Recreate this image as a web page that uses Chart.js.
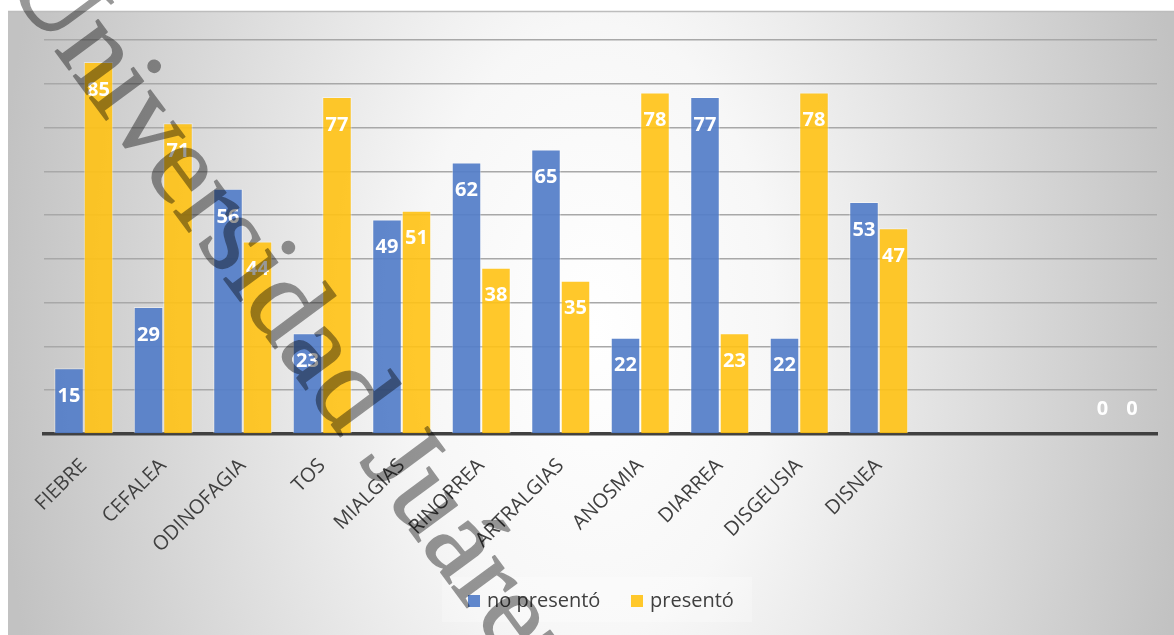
<!DOCTYPE html>
<html>
<head>
<meta charset="utf-8">
<script src="https://cdn.jsdelivr.net/npm/chart.js@4.4.1/dist/chart.umd.min.js"></script>
<style>
html,body{margin:0;padding:0;background:#fff;}
#wrap{width:1174px;height:635px;}
</style>
</head>
<body>
<div id="wrap"><canvas id="c" width="1174" height="635"></canvas></div>
<script>
const categories = ['FIEBRE','CEFALEA','ODINOFAGIA','TOS','MIALGIAS','RINORREA','ARTRALGIAS','ANOSMIA','DIARREA','DISGEUSIA','DISNEA','','',''];
const noPresento = [15,29,56,23,49,62,65,22,77,22,53,null,null,0];
const presento   = [85,71,44,77,51,38,35,78,23,78,47,null,null,0];
const seriesNames = ['no presentó','presentó'];
const yTicks = [0,10,20,30,40,50,60,70,80,90];
const watermarkText = 'Universidad Juárez del Estado de Durango';

const BLUE = 'rgba(84,126,200,0.93)';
const YELLOW = 'rgba(255,194,20,0.9)';

const bgPlugin = {
  id:'bg',
  beforeDraw(chart){
    const ctx = chart.ctx;
    ctx.save();
    ctx.fillStyle = '#fff';
    ctx.fillRect(0,0,chart.width,chart.height);
    ctx.save();
    ctx.beginPath();
    ctx.rect(8,11,chart.width-8,chart.height-11);
    ctx.clip();
    ctx.translate(595,330);
    ctx.scale(1,1.7);
    const g = ctx.createRadialGradient(0,0,0,0,0,600);
    g.addColorStop(0,'#ffffff');
    g.addColorStop(0.3,'#f7f7f7');
    g.addColorStop(1,'#c2c2c2');
    ctx.fillStyle = g;
    ctx.fillRect(-700,-400,1400,800);
    ctx.restore();
    ctx.strokeStyle = '#bdbdbd';
    ctx.lineWidth = 1.5;
    ctx.beginPath();
    ctx.moveTo(8,11.5);
    ctx.lineTo(chart.width,11.5);
    ctx.stroke();
    ctx.restore();
  }
};

const valueLabels = {
  id:'valueLabels',
  afterDatasetsDraw(chart){
    const ctx = chart.ctx;
    ctx.save();
    ctx.font = 'bold 20px "Open Sans"';
    ctx.fillStyle = '#ffffff';
    ctx.textAlign = 'center';
    ctx.textBaseline = 'middle';
    chart.data.datasets.forEach((ds,i)=>{
      const meta = chart.getDatasetMeta(i);
      meta.data.forEach((bar,j)=>{
        const v = ds.data[j];
        if (v === null || v === undefined) return;
        const y = v === 0 ? bar.y - 25 : bar.y + 28;
        ctx.fillText(String(v), bar.x, y);
      });
    });
    ctx.restore();
  }
};

const legendPlugin = {
  id:'customLegend',
  afterDraw(chart){
    const ctx = chart.ctx;
    ctx.save();
    ctx.fillStyle = 'rgba(255,255,255,0.25)';
    ctx.fillRect(442,577,310,45);
    ctx.font = '20px "Open Sans"';
    ctx.textBaseline = 'middle';
    ctx.textAlign = 'left';
    const xs = [468,631];
    chart.data.datasets.forEach((ds,i)=>{
      ctx.fillStyle = ds.backgroundColor;
      ctx.fillRect(xs[i],595,12,12);
      ctx.fillStyle = '#404040';
      ctx.fillText(ds.label, xs[i]+19, 601);
    });
    ctx.restore();
  }
};

const watermark = {
  id:'watermark',
  afterDraw(chart){
    const off = document.createElement('canvas');
    off.width = chart.width; off.height = chart.height;
    const o = off.getContext('2d');
    o.translate(4,-18);
    o.rotate(53.5*Math.PI/180);
    o.font = '116px "Liberation Serif", "DejaVu Serif", serif';
    o.fillStyle = '#000';
    o.strokeStyle = '#000';
    o.lineWidth = 1.5;
    o.lineJoin = 'round';
    o.textBaseline = 'alphabetic';
    o.textAlign = 'left';
    o.fillText(watermarkText,0,0);
    o.strokeText(watermarkText,0,0);
    const ctx = chart.ctx;
    ctx.save();
    ctx.globalAlpha = 0.4;
    ctx.drawImage(off,0,0);
    ctx.restore();
  }
};

new Chart(document.getElementById('c'),{
  type:'bar',
  data:{
    labels:categories,
    datasets:[
      {label:seriesNames[0],data:noPresento,backgroundColor:BLUE,borderColor:'rgba(255,255,255,0.45)',borderWidth:1,categoryPercentage:0.742,barPercentage:1.0},
      {label:seriesNames[1],data:presento,backgroundColor:YELLOW,borderColor:'rgba(255,255,255,0.45)',borderWidth:1,categoryPercentage:0.742,barPercentage:1.0}
    ]
  },
  options:{
    responsive:false,
    animation:false,
    layout:{padding:{left:44,right:17,top:40,bottom:0}},
    plugins:{legend:{display:false},tooltip:{enabled:false}},
    scales:{
      x:{
        grid:{display:false,drawTicks:false},
        border:{display:true,color:'#404040',width:3.5},
        ticks:{
          color:'#404040',
          font:{family:'"Open Sans"',size:20},
          maxRotation:45,minRotation:45,
          padding:20,
          autoSkip:false
        },
        afterFit(s){ s.height = 201; }
      },
      y:{
        min:0,max:90,
        afterBuildTicks(s){ s.ticks = yTicks.map(v=>({value:v})); },
        ticks:{display:false},
        grid:{
          color:(c)=> c.tick && c.tick.value===0 ? 'rgba(0,0,0,0)' : '#a8a8a8',
          lineWidth:1.5,
          drawTicks:false
        },
        border:{display:false},
        afterFit(s){ s.width = 0; }
      }
    }
  },
  plugins:[bgPlugin,valueLabels,legendPlugin,watermark]
});
</script>
</body>
</html>
